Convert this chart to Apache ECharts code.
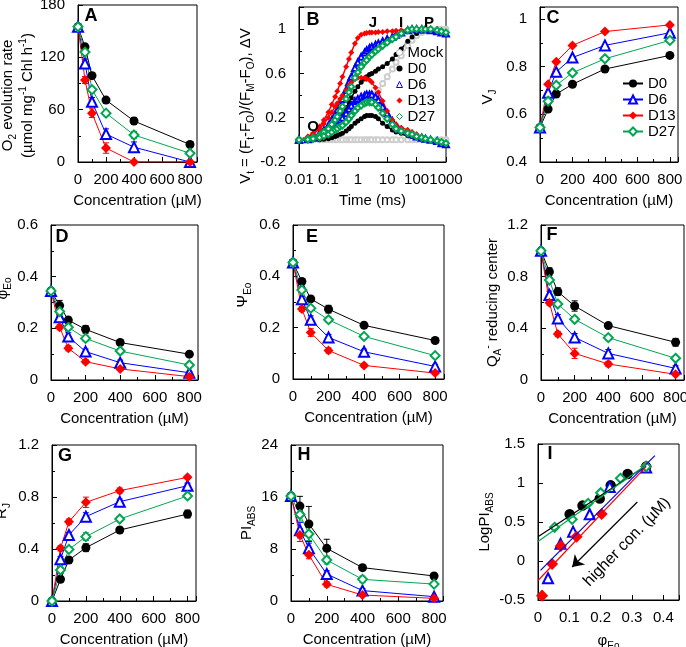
<!DOCTYPE html>
<html><head><meta charset="utf-8">
<script src="https://cdn.jsdelivr.net/npm/echarts@6/dist/echarts.min.js"></script>
<style>html,body{margin:0;padding:0;background:#fff}#c{width:686px;height:647px}</style>
</head><body><div id="c"></div><script>
const FONT = '"Liberation Sans", Arial, Helvetica, sans-serif';

// ---------- shared categories ----------
const conc = [0, 50, 100, 200, 400, 800];
const groups = ['D0', 'D6', 'D13', 'D27'];

// ---------- A: O2 evolution rate ----------
const o2D0 = [155, 132, 99, 71, 47, 20];
const o2D6 = [155, 113, 69, 32, 17, 0];
const o2D13 = [155, 94, 56, 16, 0, 0];
const o2D27 = [155, 126, 83, 56, 31, 10];
const o2ErrD0 = [0, 3, 3, 3, 4, 3];
const o2ErrD6 = [0, 5, 5, 6, 6, 0];
const o2ErrD13 = [0, 4, 5, 6, 0, 0];
const o2ErrD27 = [0, 3, 3, 3, 4, 2];

// ---------- B: OJIP transients ----------
const tB = [0.01,0.02,0.03,0.05,0.07,0.1,0.13,0.17,0.2,0.25,0.3,0.4,0.5,0.6,0.8,1,1.3,1.7,2,2.5,3,4,5,7,10,15,20,30,50,70,100,150,200,300,500,700,1000];
const vtMock = [0,0.005,0.01,0.02,0.035,0.05,0.07,0.09,0.11,0.14,0.17,0.21,0.24,0.26,0.29,0.31,0.33,0.34,0.35,0.37,0.38,0.41,0.45,0.51,0.57,0.64,0.70,0.76,0.85,0.90,0.94,0.97,0.99,1.0,1.0,1.0,1.0];
const vtD0 = [0,0.005,0.01,0.02,0.04,0.06,0.09,0.12,0.15,0.19,0.23,0.29,0.34,0.38,0.44,0.48,0.52,0.55,0.57,0.59,0.60,0.62,0.64,0.66,0.69,0.73,0.77,0.82,0.89,0.93,0.96,0.98,0.99,1.0,0.99,0.98,0.97];
const vtD6 = [0,0.01,0.03,0.06,0.09,0.13,0.18,0.23,0.27,0.32,0.37,0.45,0.52,0.57,0.65,0.70,0.75,0.79,0.81,0.83,0.84,0.86,0.87,0.89,0.91,0.93,0.95,0.97,0.99,1.0,1.0,1.0,1.0,0.99,0.98,0.97,0.96];
const vtD13 = [0,0.03,0.06,0.12,0.18,0.25,0.32,0.39,0.44,0.51,0.57,0.66,0.73,0.79,0.87,0.92,0.95,0.96,0.965,0.97,0.97,0.97,0.975,0.975,0.98,0.98,0.985,0.99,1.0,1.0,1.0,1.0,1.0,0.995,0.99,0.98,0.97];
const vtD27 = [0,0.008,0.02,0.04,0.07,0.1,0.14,0.18,0.21,0.26,0.3,0.37,0.43,0.48,0.56,0.61,0.66,0.70,0.72,0.75,0.77,0.80,0.82,0.85,0.88,0.91,0.93,0.96,0.99,1.0,1.0,1.0,1.0,1.0,0.99,0.98,0.97];
const dvMock = [0,0,0,0,0,0,0,0,0,0,0,0,0,0,0,0,0,0,0,0,0,0,0,0,0,0,0,0,0,0,0,0,0,0,0,0,0];
const dvD0 = [0,0,0,0,0.005,0.01,0.02,0.03,0.04,0.05,0.06,0.08,0.10,0.12,0.15,0.17,0.19,0.21,0.22,0.22,0.22,0.21,0.19,0.15,0.12,0.09,0.07,0.06,0.04,0.03,0.02,0.01,0,0,-0.01,-0.02,-0.03];
const dvD6 = [0,0.005,0.02,0.04,0.055,0.08,0.11,0.14,0.16,0.18,0.20,0.24,0.28,0.31,0.35,0.37,0.39,0.40,0.41,0.41,0.41,0.39,0.36,0.30,0.24,0.17,0.12,0.09,0.07,0.05,0.03,0.02,0.01,0,-0.01,-0.03,-0.04];
const dvD13 = [0,0.025,0.05,0.1,0.145,0.2,0.25,0.3,0.33,0.37,0.4,0.45,0.49,0.52,0.55,0.56,0.56,0.56,0.55,0.54,0.52,0.47,0.43,0.35,0.26,0.18,0.14,0.11,0.09,0.07,0.05,0.03,0.01,0,-0.01,-0.02,-0.03];
const dvD27 = [0,0.003,0.01,0.02,0.035,0.05,0.07,0.09,0.1,0.12,0.13,0.16,0.19,0.22,0.26,0.29,0.31,0.33,0.34,0.34,0.34,0.32,0.29,0.24,0.19,0.14,0.1,0.08,0.06,0.05,0.03,0.02,0.01,0,-0.01,-0.02,-0.03];

// ---------- C: VJ ----------
const vjD0 = [0.545, 0.622, 0.685, 0.726, 0.79, 0.847];
const vjD6 = [0.545, 0.69, 0.778, 0.838, 0.889, 0.942];
const vjD13 = [0.545, 0.726, 0.82, 0.889, 0.947, 0.975];
const vjD27 = [0.545, 0.655, 0.722, 0.774, 0.833, 0.91];

// ---------- D: phiEo ----------
const phiD0 = [0.345, 0.288, 0.232, 0.196, 0.145, 0.1];
const phiD6 = [0.345, 0.243, 0.168, 0.11, 0.067, 0.028];
const phiD13 = [0.345, 0.204, 0.123, 0.071, 0.043, 0.013];
const phiD27 = [0.345, 0.265, 0.204, 0.161, 0.112, 0.058];
const phiErrD0 = [0, 0.02, 0.012, 0.015, 0.01, 0.005];
const phiErrD6 = [0, 0.01, 0.015, 0.01, 0.01, 0.005];
const phiErrD13 = [0, 0.01, 0.01, 0.008, 0.006, 0.004];
const phiErrD27 = [0, 0.01, 0.01, 0.01, 0.01, 0.005];

// ---------- E: psiEo ----------
const psiD0 = [0.454, 0.38, 0.312, 0.272, 0.209, 0.15];
const psiD6 = [0.454, 0.311, 0.231, 0.162, 0.106, 0.049];
const psiD13 = [0.454, 0.273, 0.181, 0.111, 0.053, 0.023];
const psiD27 = [0.454, 0.347, 0.276, 0.231, 0.166, 0.091];
const psiErrD0 = [0, 0.01, 0.01, 0.015, 0.012, 0.01];
const psiErrD6 = [0, 0.01, 0.015, 0.012, 0.01, 0.008];
const psiErrD13 = [0, 0.01, 0.015, 0.01, 0.008, 0.005];
const psiErrD27 = [0, 0.01, 0.01, 0.01, 0.01, 0.008];

// ---------- F: QA- reducing center ----------
const qaD0 = [1.0, 0.839, 0.684, 0.573, 0.421, 0.292];
const qaD6 = [1.0, 0.658, 0.477, 0.33, 0.206, 0.09];
const qaD13 = [1.0, 0.599, 0.356, 0.206, 0.124, 0.044];
const qaD27 = [1.0, 0.774, 0.588, 0.47, 0.328, 0.168];
const qaErrD0 = [0, 0.03, 0.03, 0.04, 0.02, 0.03];
const qaErrD6 = [0, 0.03, 0.03, 0.03, 0.03, 0.02];
const qaErrD13 = [0, 0.02, 0.02, 0.04, 0.02, 0.01];
const qaErrD27 = [0, 0.02, 0.02, 0.02, 0.02, 0.015];

// ---------- G: RJ ----------
const rjD0 = [0, 0.167, 0.315, 0.41, 0.546, 0.669];
const rjD6 = [0, 0.321, 0.508, 0.649, 0.764, 0.887];
const rjD13 = [0, 0.405, 0.61, 0.759, 0.849, 0.951];
const rjD27 = [0, 0.238, 0.397, 0.495, 0.631, 0.808];
const rjErrD0 = [0, 0.02, 0.02, 0.03, 0.02, 0.03];
const rjErrD6 = [0, 0.02, 0.02, 0.03, 0.02, 0.02];
const rjErrD13 = [0, 0.02, 0.02, 0.04, 0.02, 0.01];
const rjErrD27 = [0, 0.02, 0.02, 0.03, 0.02, 0.02];

// ---------- H: PIABS ----------
const piD0 = [16.15, 14.6, 11.85, 8.1, 5.13, 3.85];
const piD6 = [16.15, 10.9, 8.1, 4.15, 1.6, 0.67];
const piD13 = [16.15, 10.15, 7.1, 2.56, 0.92, 0.41];
const piD27 = [16.15, 13.3, 10.3, 6.3, 3.33, 2.6];
const piErrD0 = [0.3, 1.5, 2.7, 1.4, 0.4, 0.4];
const piErrD6 = [0.3, 1.2, 0.8, 0.5, 0.3, 0.2];
const piErrD13 = [0.3, 1.0, 0.6, 0.4, 0.2, 0.1];
const piErrD27 = [0.3, 1.0, 1.0, 0.6, 0.5, 0.3];

// ---------- I: LogPIABS vs phiEo ----------
const iPhiD0 = [0.345, 0.286, 0.232, 0.197, 0.142, 0.101];
const iLogD0 = [1.21, 1.115, 0.97, 0.80, 0.71, 0.60];
const iPhiD6 = [0.345, 0.229, 0.165, 0.112, 0.072, 0.032];
const iLogD6 = [1.2, 0.95, 0.6, 0.376, 0.22, -0.222];
const iPhiD13 = [0.345, 0.203, 0.123, 0.073, 0.045, 0.013];
const iLogD13 = [1.21, 0.603, 0.312, 0.192, -0.038, -0.444];
const iPhiD27 = [0.345, 0.263, 0.2, 0.16, 0.109, 0.053];
const iLogD27 = [1.21, 1.06, 0.876, 0.739, 0.534, 0.432];
const fitD0 = [[0, 0.31], [0.345, 1.22]];
const fitD6 = [[0.008, -0.12], [0.373, 1.35]];
const fitD13 = [[0, -0.25], [0.345, 1.21]];
const fitD27 = [[0, 0.25], [0.345, 1.23]];
const arrowI = [[0.317, 0.756], [0.109, -0.077]];

// ---------- styles ----------
const grpStyle = {
  D0: {symbol: 'circle', size: 9, color: '#000000'},
  D6: {symbol: 'emptyTriangle', size: 10, color: '#0000ff'},
  D13: {symbol: 'diamond', size: 10, color: '#ff0000'},
  D27: {symbol: 'emptyDiamond', size: 9, color: '#00a651'}
};
const bStyle = {
  Mock: {symbol: 'emptyCircle', size: 5, color: '#cdcdcd'},
  D0: {symbol: 'circle', size: 5, color: '#000000'},
  D6: {symbol: 'emptyTriangle', size: 6, color: '#0000ff'},
  D13: {symbol: 'diamond', size: 6, color: '#ff0000'},
  D27: {symbol: 'emptyDiamond', size: 6, color: '#00a651'}
};
const rich = {
  n: {fontSize: 15, fontFamily: FONT, color: '#000', lineHeight: 20},
  s: {fontSize: 10, fontFamily: FONT, color: '#000', verticalAlign: 'bottom', lineHeight: 12},
  p: {fontSize: 10, fontFamily: FONT, color: '#000', verticalAlign: 'top', lineHeight: 12}
};

const gridBoxes = [
  {left: 78, top: 5, width: 119, height: 157},
  {left: 299, top: 7, width: 147, height: 155},
  {left: 540, top: 7, width: 138, height: 155},
  {left: 51, top: 225, width: 147, height: 155},
  {left: 293, top: 225, width: 151, height: 154},
  {left: 541, top: 225, width: 143, height: 155},
  {left: 52, top: 445, width: 144, height: 156},
  {left: 291, top: 445, width: 152, height: 156},
  {left: 538, top: 444, width: 141, height: 156}
];
const grids = gridBoxes.map(b => Object.assign({}, b, {
  show: true, borderColor: '#000', borderWidth: 1, backgroundColor: 'rgba(0,0,0,0)',
  containLabel: false, outerBoundsMode: 'none'
}));

const fmt = lim => v => (v > lim + 1e-9 ? '' : String(parseFloat(Number(v).toFixed(3))));

function axis(gi, o) {
  return {
    type: o.type || 'value', gridIndex: gi,
    min: o.min, max: o.max, interval: o.interval, logBase: o.logBase,
    name: o.name, nameLocation: 'middle', nameGap: o.gap, nameRotate: o.rotate || 0,
    nameTextStyle: Object.assign({fontSize: 15, fontFamily: FONT, color: '#000', rich: rich}, o.nameStyle || {}),
    axisLine: {show: true, onZero: false, lineStyle: {color: '#000', width: 1}},
    axisTick: {show: true, inside: true, length: 5, lineStyle: {color: '#000', width: 1}},
    minorTick: {show: !!o.minor, splitNumber: o.minor || 5, length: 3, lineStyle: {color: '#000', width: 1}},
    splitLine: {show: false}, minorSplitLine: {show: false},
    axisLabel: {fontSize: 15, fontFamily: FONT, color: '#000', margin: o.margin, formatter: o.formatter}
  };
}
const xAxes = [], yAxes = [];
function concX(gi) {
  return axis(gi, {min: 0, max: 850, interval: 200, minor: 2, name: 'Concentration (µM)', gap: 31, margin: 10, formatter: fmt(800)});
}
// A
xAxes.push(concX(0));
yAxes.push(axis(0, {min: 0, max: 180, interval: 60, minor: 2, margin: 13, rotate: 90, gap: 40,
  name: '{n|O}{s|2}{n| evolution rate}\n{n|(µmol mg}{p|-1}{n| Chl h}{p|-1}{n|)}', nameStyle: {padding: [0, 24, 0, 0]},
  formatter: fmt(180)}));
// B
xAxes.push(axis(1, {type: 'log', min: 0.01, max: 1000, logBase: 10, name: 'Time (ms)', gap: 31, margin: 10,
  formatter: v => String(parseFloat(Number(v).toPrecision(3)))}));
yAxes.push(axis(1, {min: -0.2, max: 1.2, interval: 0.4, minor: 2, margin: 13, rotate: 90, gap: 42,
  name: '{n|V}{s|t}{n| = (F}{s|t}{n|-F}{s|O}{n|)/(F}{s|M}{n|-F}{s|O}{n|), ΔV}', nameStyle: {padding: [0, 43, 0, 0]},
  formatter: fmt(1.0)}));
// C
xAxes.push(concX(2));
yAxes.push(axis(2, {min: 0.4, max: 1.05, interval: 0.2, minor: 2, margin: 13, rotate: 90, gap: 42,
  name: '{n|V}{s|J}', nameStyle: {padding: [0, 25, 0, 0]}, formatter: fmt(1.0)}));
// D
xAxes.push(concX(3));
yAxes.push(axis(3, {min: 0, max: 0.6, interval: 0.2, minor: 2, margin: 13, rotate: 90, gap: 33,
  name: '{n|φ}{s|Eo}', nameStyle: {padding: [0, 0, 0, 28]}, formatter: fmt(0.6)}));
// E
xAxes.push(concX(4));
yAxes.push(axis(4, {min: 0, max: 0.6, interval: 0.2, minor: 2, margin: 13, rotate: 90, gap: 40,
  name: '{n|Ψ}{s|Eo}', nameStyle: {padding: [0, 0, 0, 14]}, formatter: fmt(0.6)}));
// F
xAxes.push(concX(5));
yAxes.push(axis(5, {min: 0, max: 1.2, interval: 0.4, minor: 2, margin: 13, rotate: 90, gap: 36,
  name: '{n|Q}{s|A}{p|-}{n| reducing center}', formatter: fmt(1.2)}));
// G
xAxes.push(concX(6));
yAxes.push(axis(6, {min: 0, max: 1.2, interval: 0.4, minor: 2, margin: 13, rotate: 90, gap: 40,
  name: '{n|R}{s|J}', nameStyle: {padding: [0, 0, 0, 24]}, formatter: fmt(1.2)}));
// H
xAxes.push(concX(7));
yAxes.push(axis(7, {min: 0, max: 24, interval: 8, minor: 2, margin: 13, rotate: 90, gap: 34,
  name: '{n|PI}{s|ABS}', formatter: fmt(24)}));
// I
xAxes.push(axis(8, {min: 0, max: 0.45, interval: 0.1, name: '{n|φ}{s|Eo}', gap: 31, margin: 10, formatter: fmt(0.4)}));
yAxes.push(axis(8, {min: -0.5, max: 1.5, interval: 0.5, margin: 13, rotate: 90, gap: 33,
  name: '{n|LogPI}{s|ABS}', formatter: fmt(1.5)}));

// ---------- series ----------
const series = [];
const errRender = color => (params, api) => {
  const x = api.value(0), y = api.value(1), e = api.value(2);
  if (!e) return null;
  const hi = api.coord([x, y + e]), lo = api.coord([x, y - e]);
  const w = 3, st = {stroke: color, lineWidth: 1};
  return {type: 'group', children: [
    {type: 'line', shape: {x1: hi[0], y1: hi[1], x2: lo[0], y2: lo[1]}, style: st},
    {type: 'line', shape: {x1: hi[0] - w, y1: hi[1], x2: hi[0] + w, y2: hi[1]}, style: st},
    {type: 'line', shape: {x1: lo[0] - w, y1: lo[1], x2: lo[0] + w, y2: lo[1]}, style: st}
  ]};
};
function addConcPanel(gi, prefix, vals, errs) {
  groups.forEach(g => {
    const st = grpStyle[g];
    if (errs) series.push({type: 'custom', name: prefix + '-' + g + '-err', xAxisIndex: gi, yAxisIndex: gi, z: 1, silent: true,
      data: conc.map((c, i) => [c, vals[g][i], errs[g][i]]), encode: {x: 0, y: 1}, renderItem: errRender(st.color)});
  });
  groups.forEach(g => {
    const st = grpStyle[g];
    series.push({type: 'line', name: prefix + '-' + g, xAxisIndex: gi, yAxisIndex: gi, z: 2,
      data: conc.map((c, i) => [c, vals[g][i]]), symbol: st.symbol, symbolSize: st.size, showAllSymbol: true,
      lineStyle: {color: st.color, width: 1}, itemStyle: {color: st.color, borderWidth: 1.5}});
  });
}
addConcPanel(0, 'A', {D0: o2D0, D6: o2D6, D13: o2D13, D27: o2D27}, {D0: o2ErrD0, D6: o2ErrD6, D13: o2ErrD13, D27: o2ErrD27});
addConcPanel(2, 'C', {D0: vjD0, D6: vjD6, D13: vjD13, D27: vjD27}, null);
addConcPanel(3, 'D', {D0: phiD0, D6: phiD6, D13: phiD13, D27: phiD27}, {D0: phiErrD0, D6: phiErrD6, D13: phiErrD13, D27: phiErrD27});
addConcPanel(4, 'E', {D0: psiD0, D6: psiD6, D13: psiD13, D27: psiD27}, {D0: psiErrD0, D6: psiErrD6, D13: psiErrD13, D27: psiErrD27});
addConcPanel(5, 'F', {D0: qaD0, D6: qaD6, D13: qaD13, D27: qaD27}, {D0: qaErrD0, D6: qaErrD6, D13: qaErrD13, D27: qaErrD27});
addConcPanel(6, 'G', {D0: rjD0, D6: rjD6, D13: rjD13, D27: rjD27}, {D0: rjErrD0, D6: rjErrD6, D13: rjErrD13, D27: rjErrD27});
addConcPanel(7, 'H', {D0: piD0, D6: piD6, D13: piD13, D27: piD27}, {D0: piErrD0, D6: piErrD6, D13: piErrD13, D27: piErrD27});

// B
const bCurves = [
  ['Mock', vtMock, dvMock], ['D0', vtD0, dvD0], ['D6', vtD6, dvD6], ['D13', vtD13, dvD13], ['D27', vtD27, dvD27]
];
bCurves.forEach(([name, vt, dv]) => {
  const st = bStyle[name];
  [vt, dv].forEach(arr => {
    series.push({type: 'line', name: name, xAxisIndex: 1, yAxisIndex: 1, z: 3,
      data: tB.map((t, i) => [t, arr[i]]), symbol: st.symbol, symbolSize: st.size, showAllSymbol: true,
      lineStyle: {color: st.color, width: 1.5}, itemStyle: {color: st.color, borderWidth: 1}});
  });
});

// I
const iSets = [['D0', iPhiD0, iLogD0, fitD0], ['D6', iPhiD6, iLogD6, fitD6], ['D13', iPhiD13, iLogD13, fitD13], ['D27', iPhiD27, iLogD27, fitD27]];
iSets.forEach(([g, xs, ys]) => {
  const st = grpStyle[g];
  series.push({type: 'scatter', name: 'I-' + g, xAxisIndex: 8, yAxisIndex: 8, z: 2,
    data: xs.map((x, i) => [x, ys[i]]), symbol: st.symbol, symbolSize: st.size,
    itemStyle: {color: st.color, borderColor: st.color, borderWidth: 1.5, opacity: 1}});
});
iSets.forEach(([g, xs, ys, fit], k) => {
  const st = grpStyle[g];
  const s = {type: 'line', name: 'I-fit-' + g, xAxisIndex: 8, yAxisIndex: 8, z: 3, showSymbol: false,
    data: fit, lineStyle: {color: st.color, width: 1.2}};
  if (k === 0) s.markLine = {silent: true, symbol: ['none', 'arrow'], symbolSize: 11, label: {show: false},
    lineStyle: {color: '#000', width: 1.2, type: 'solid'}, data: [[{coord: arrowI[0]}, {coord: arrowI[1]}]]};
  series.push(s);
});

// ---------- text annotations ----------
const letters = [['A', 91, 16], ['B', 313, 20], ['C', 553, 18], ['D', 62, 237], ['E', 312, 237], ['F', 552, 235], ['G', 65, 456], ['H', 304, 455], ['I', 550, 454]];
const ojip = [['O', 313, 127], ['J', 373, 23], ['I', 401, 23], ['P', 429, 23]];
const graphic = [];
letters.forEach(([t, x, y]) => graphic.push({type: 'text', x, y, z: 100, style: {text: t, font: 'bold 18px ' + FONT, fill: '#000', align: 'center', verticalAlign: 'middle'}}));
ojip.forEach(([t, x, y]) => graphic.push({type: 'text', x, y, z: 100, style: {text: t, font: 'bold 15px ' + FONT, fill: '#000', align: 'center', verticalAlign: 'middle'}}));
graphic.push({type: 'text', x: 627, y: 542, rotation: 0.8, z: 100, style: {text: 'higher con. (µM)', font: '16px ' + FONT, fill: '#000', align: 'center', verticalAlign: 'middle'}});

const legendText = {fontSize: 15, fontFamily: FONT, color: '#000', lineHeight: 14};
const option = {
  animation: false,
  backgroundColor: '#fff',
  grid: grids, xAxis: xAxes, yAxis: yAxes, series: series, graphic: graphic,
  legend: [
    {orient: 'vertical', left: 396, top: 45, padding: 0, itemGap: 1, itemWidth: 6, itemHeight: 6, selectedMode: false,
      textStyle: legendText,
      data: [
        {name: 'Mock', icon: 'circle', itemStyle: {color: '#fff', borderColor: '#b0b0b0', borderWidth: 1}},
        {name: 'D0', icon: 'circle'},
        {name: 'D6', icon: 'triangle', itemStyle: {color: '#fff', borderColor: '#0000ff', borderWidth: 1}},
        {name: 'D13', icon: 'diamond'},
        {name: 'D27', icon: 'diamond', itemStyle: {color: '#fff', borderColor: '#00a651', borderWidth: 1}}
      ]},
    {orient: 'vertical', left: 622, top: 76, padding: 0, itemGap: 1, itemWidth: 20, itemHeight: 10, selectedMode: false,
      textStyle: legendText, data: ['C-D0', 'C-D6', 'C-D13', 'C-D27'], formatter: n => n.slice(2)}
  ]
};
const chart = echarts.init(document.getElementById('c'), null, {renderer: 'canvas'});
chart.setOption(option);
</script></body></html>
